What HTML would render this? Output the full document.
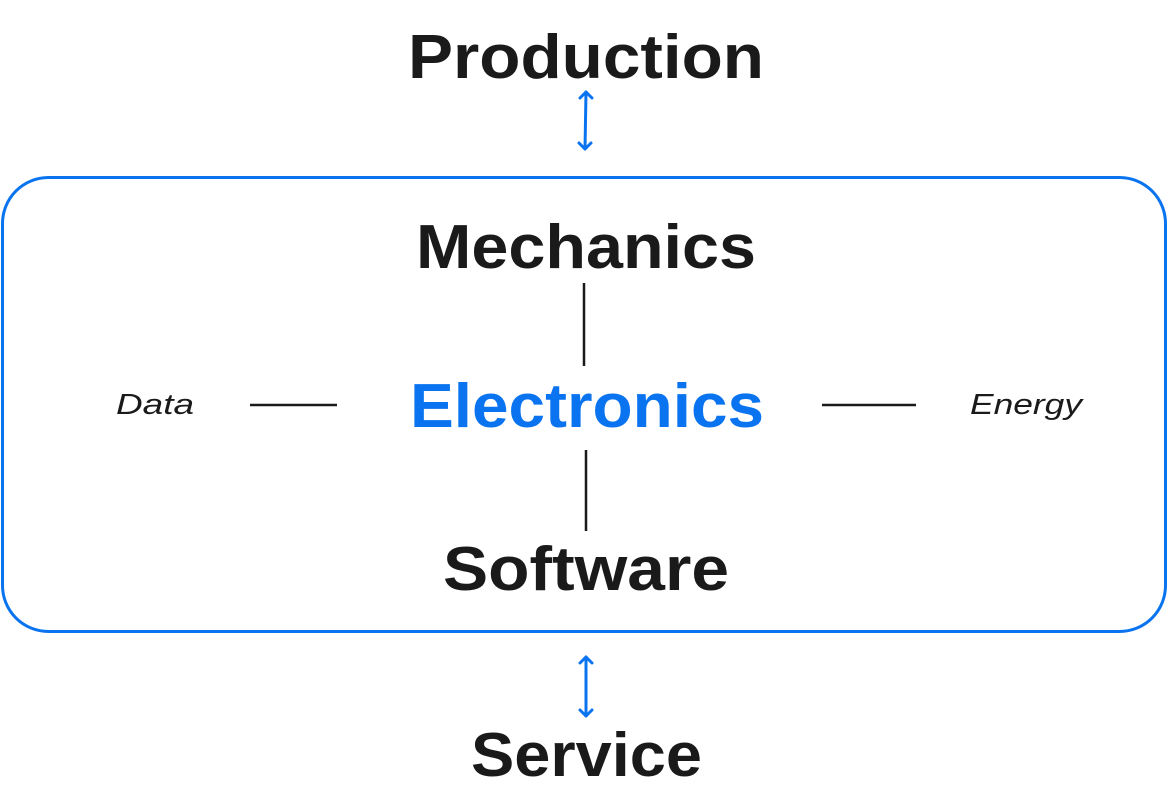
<!DOCTYPE html>
<html><head><style>html,body{margin:0;padding:0;background:#fff;}svg{display:block}</style></head>
<body>
<svg width="1169" height="809" viewBox="0 0 1169 809" xmlns="http://www.w3.org/2000/svg">
<rect x="2.5" y="177.5" width="1163" height="454" rx="46" fill="none" stroke="#0a74f0" stroke-width="3"/>
<g font-family="Liberation Sans, sans-serif" font-weight="bold" fill="#1a1a1a" font-size="62">
<text x="408" y="78" textLength="356" lengthAdjust="spacingAndGlyphs">Production</text>
<text x="416" y="268" textLength="340" lengthAdjust="spacingAndGlyphs">Mechanics</text>
<text x="410" y="427" textLength="354" lengthAdjust="spacingAndGlyphs" fill="#0a74f0">Electronics</text>
<text x="443" y="590" textLength="286" lengthAdjust="spacingAndGlyphs">Software</text>
<text x="471" y="776" textLength="231" lengthAdjust="spacingAndGlyphs">Service</text>
</g>
<g font-family="Liberation Sans, sans-serif" font-style="italic" fill="#1a1a1a" font-size="29">
<text x="116" y="414" textLength="78" lengthAdjust="spacingAndGlyphs">Data</text>
<text x="970" y="414" textLength="112" lengthAdjust="spacingAndGlyphs">Energy</text>
</g>
<g stroke="#1a1a1a" stroke-width="2.5">
<line x1="584" y1="283" x2="584" y2="366"/>
<line x1="586" y1="450" x2="586" y2="531"/>
<line x1="250" y1="405" x2="337" y2="405"/>
<line x1="822" y1="405" x2="916" y2="405"/>
</g>
<g stroke="#0a74f0" stroke-width="3" fill="none" stroke-linecap="round" stroke-linejoin="round">
<line x1="586" y1="92" x2="585" y2="149"/>
<polyline points="580,98 586,92 592,98"/>
<polyline points="579,143 585,149 591,143"/>
<line x1="586" y1="657" x2="586" y2="716"/>
<polyline points="580,663 586,657 592,663"/>
<polyline points="580,710 586,716 592,710"/>
</g>
</svg>
</body></html>
